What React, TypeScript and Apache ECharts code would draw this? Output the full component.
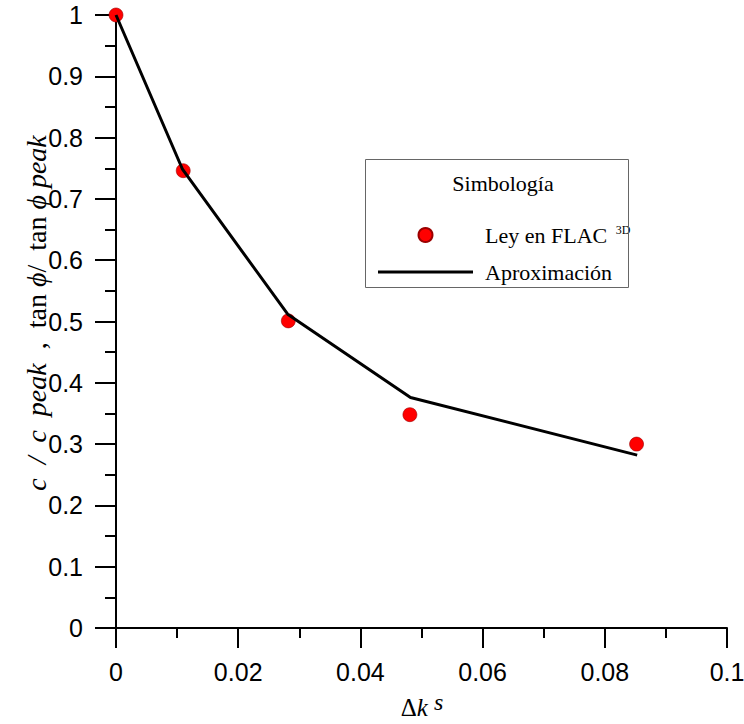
import React, { useEffect, useRef } from "react";
import * as echarts from "echarts";

const lawX = [0, 0.011, 0.0282, 0.0481, 0.0852];
const lawY = [1, 0.746, 0.501, 0.348, 0.3];
const approxX = [0, 0.0109, 0.0281, 0.0482, 0.0853];
const approxY = [1, 0.748, 0.512, 0.376, 0.282];
const lawName = "Ley en FLAC 3D";
const approxName = "Aproximación";
const legendTitle = "Simbología";

const SERIF = "'Liberation Serif', 'Times New Roman', serif";
const SANS = "'Liberation Sans', Arial, sans-serif";

export default function App() {
  const ref = useRef<HTMLDivElement>(null);
  useEffect(() => {
    if (!ref.current) return;
    const chart = echarts.init(ref.current, null, { renderer: "svg" });
    const fmt = (v: number) => String(parseFloat(v.toFixed(3)));
    chart.setOption({
      animation: false,
      backgroundColor: "#ffffff",
      grid: { left: 116, right: 17, top: 15, bottom: 96, containLabel: false, outerBoundsMode: "none" },
      xAxis: {
        type: "value",
        min: 0,
        max: 0.1,
        interval: 0.02,
        axisLine: { show: true, onZero: false, lineStyle: { color: "#000", width: 2 } },
        axisTick: { show: true, inside: false, length: 20, lineStyle: { color: "#000", width: 2 } },
        minorTick: { show: true, splitNumber: 2, length: 10, lineStyle: { color: "#000", width: 2 } },
        axisLabel: { margin: 31, fontFamily: SANS, fontSize: 25, color: "#000", formatter: fmt },
        splitLine: { show: false },
        minorSplitLine: { show: false },
      },
      yAxis: {
        type: "value",
        min: 0,
        max: 1,
        interval: 0.1,
        axisLine: { show: true, onZero: false, lineStyle: { color: "#000", width: 2 } },
        axisTick: { show: true, inside: false, length: 21, lineStyle: { color: "#000", width: 2 } },
        minorTick: { show: true, splitNumber: 2, length: 11, lineStyle: { color: "#000", width: 2 } },
        axisLabel: { margin: 33, fontFamily: SANS, fontSize: 25, color: "#000", formatter: fmt },
        splitLine: { show: false },
        minorSplitLine: { show: false },
      },
      legend: {
        show: true,
        orient: "vertical",
        left: 378,
        top: 224,
        itemWidth: 95,
        itemHeight: 14,
        itemGap: 15,
        padding: 0,
        data: [
          { name: lawName },
          { name: approxName, icon: "path://M0,0 H95 V3 H0 Z" },
        ],
        formatter: (name: string) => (name === lawName ? "Ley en FLAC {sup|3D}" : name),
        textStyle: {
          fontFamily: SERIF,
          fontSize: 22,
          color: "#000",
          padding: [0, 0, 0, 7],
          rich: {
            sup: { fontFamily: SERIF, fontSize: 12, color: "#000", verticalAlign: "top", padding: [0, 0, 10, 3] },
          },
        },
      },
      graphic: [
        {
          type: "rect",
          shape: { x: 365.5, y: 159.5, width: 263, height: 128 },
          style: { fill: "none", stroke: "#666", lineWidth: 1 },
          z: 10,
        },
        {
          type: "text",
          x: 503,
          y: 183,
          style: {
            text: legendTitle,
            fontFamily: SERIF,
            fontSize: 22,
            fill: "#000",
            align: "center",
            verticalAlign: "middle",
          },
          z: 10,
        },
        {
          type: "text",
          x: 36,
          y: 313,
          rotation: Math.PI / 2,
          style: {
            text: "{i|c  /  c  peak}  ,  tan {i|ϕ}/  tan {i|ϕ peak}",
            fontFamily: SERIF,
            fontSize: 28,
            fill: "#000",
            align: "center",
            verticalAlign: "middle",
            rich: {
              i: { fontFamily: SERIF, fontSize: 28, fontStyle: "italic", fill: "#000" },
            },
          },
          z: 10,
        },
        {
          type: "text",
          x: 422,
          y: 705,
          style: {
            text: "{n|Δ}{i|k}{s| s}",
            align: "center",
            verticalAlign: "middle",
            rich: {
              n: { fontFamily: SERIF, fontSize: 25, fill: "#000", verticalAlign: "bottom", lineHeight: 30 },
              i: { fontFamily: SERIF, fontSize: 25, fontStyle: "italic", fill: "#000", verticalAlign: "bottom", lineHeight: 30 },
              s: { fontFamily: SERIF, fontSize: 24, fontStyle: "italic", fill: "#000", verticalAlign: "top", lineHeight: 30 },
            },
          },
          z: 10,
        },
      ],
      series: [
        {
          name: lawName,
          type: "scatter",
          data: lawX.map((x, i) => [x, lawY[i]]),
          symbol: "circle",
          symbolSize: 14,
          clip: false,
          z: 2,
          itemStyle: { color: "#ff0000", opacity: 1, borderColor: "#9a0000", borderWidth: 0.6 },
        },
        {
          name: approxName,
          type: "line",
          data: approxX.map((x, i) => [x, approxY[i]]),
          symbol: "none",
          showSymbol: false,
          clip: false,
          z: 3,
          lineStyle: { color: "#000", width: 3 },
          itemStyle: { color: "#000" },
        },
      ],
    });
    return () => chart.dispose();
  }, []);
  return (
    <div
      ref={ref}
      style={{ position: "fixed", left: 0, top: 0, width: 744, height: 724, background: "#fff" }}
    />
  );
}
